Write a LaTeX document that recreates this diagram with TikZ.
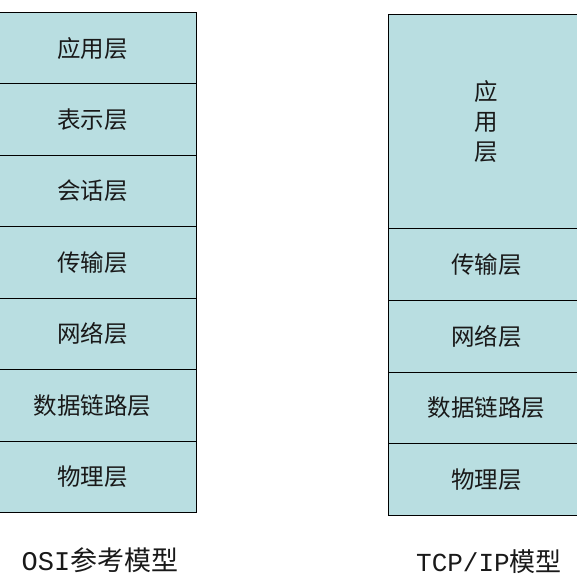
\documentclass[tikz,border=0pt]{standalone}
\usepackage{fontspec}
\setmainfont{Noto Sans CJK SC}
\newfontfamily\latinmono{Liberation Mono}
\definecolor{layerfill}{RGB}{185,222,225}
\begin{document}
\begin{tikzpicture}[x=1pt,y=-1pt,
  layer/.style={draw=black, line width=1pt, fill=layerfill, inner sep=0pt,
    anchor=north west, font=\fontsize{23.5}{30}\selectfont, text=black!90},
  osirow/.style={layer, minimum width=208pt, minimum height=71.43pt},
  tcprow/.style={layer, minimum width=196pt, minimum height=71.75pt},
  caption/.style={inner sep=0pt, text=black!90}]
\useasboundingbox (0,0) rectangle (577,578);
% OSI model
\node[osirow] (o1) at (-12,12)     {应用层};
\node[osirow] (o2) at (-12,83.43)  {表示层};
\node[osirow] (o3) at (-12,154.86) {会话层};
\node[osirow] (o4) at (-12,226.29) {传输层};
\node[osirow] (o5) at (-12,297.71) {网络层};
\node[osirow] (o6) at (-12,369.14) {数据链路层};
\node[osirow] (o7) at (-12,440.57) {物理层};
% TCP/IP model
\node[tcprow, minimum height=213.5pt, align=center] (t1) at (388,14.5) {应\\用\\层};
\node[tcprow] (t2) at (388,228)    {传输层};
\node[tcprow] (t3) at (388,299.75) {网络层};
\node[tcprow] (t4) at (388,371.5)  {数据链路层};
\node[tcprow] (t5) at (388,443.25) {物理层};
% captions
\node[caption, font=\fontsize{27}{30}\selectfont] (osicap) at (100,560) {{\latinmono OSI}参考模型};
\node[caption, font=\fontsize{26}{30}\selectfont] (tcpcap) at (489,562) {{\latinmono TCP/IP}模型};
\end{tikzpicture}
\end{document}
